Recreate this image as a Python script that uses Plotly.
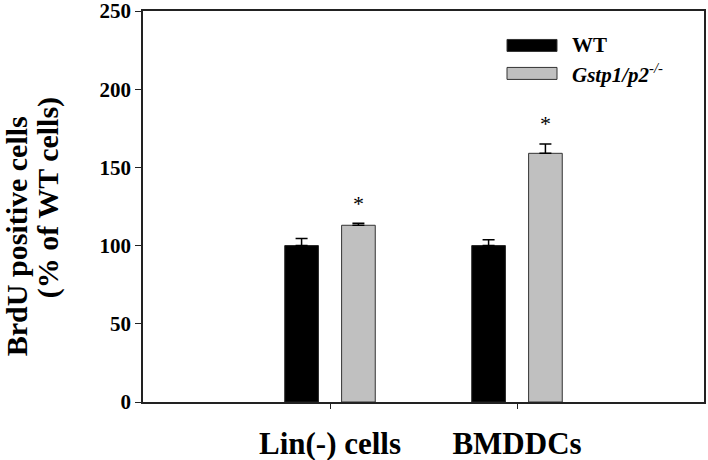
import plotly.graph_objects as go

categories = ["Lin(-) cells", "BMDDCs"]
wt_values = [100, 100]
wt_err = [4.5, 3.7]
ko_values = [113, 159]
ko_err = [1.3, 6]
significant = [True, True]
y_ticks = [0, 50, 100, 150, 200, 250]

FONT = "Liberation Serif, Times New Roman, serif"
W, H = 708, 460
L, R, T, B = 143, 4, 10.5, 58
pw, ph = W - L - R, H - T - B

def px(x):
    return (x - L) / pw

def py(y):
    return 1 - (y - T) / ph

fig = go.Figure()
fig.add_trace(go.Bar(
    x=categories, y=wt_values, name="WT",
    marker=dict(color="black", line=dict(color="#222222", width=1)),
    error_y=dict(type="data", array=wt_err, arrayminus=[0] * len(wt_err), symmetric=False,
                 color="black", thickness=1.5, width=6),
    showlegend=False,
))
fig.add_trace(go.Bar(
    x=categories, y=ko_values, name="Gstp1/p2-/-",
    marker=dict(color="#c0c0c0", line=dict(color="#333333", width=1)),
    error_y=dict(type="data", array=ko_err, arrayminus=[0] * len(ko_err), symmetric=False,
                 color="black", thickness=1.5, width=6),
    showlegend=False,
))

annotations = []
for i, cat in enumerate(categories):
    if significant[i]:
        annotations.append(dict(
            x=cat, y=ko_values[i] + ko_err[i], xref="x", yref="y",
            text="*", showarrow=False, xshift=28, yshift=20,
            font=dict(family=FONT, size=22, color="black"),
        ))

# y-axis title (two lines)
annotations.append(dict(x=px(16), y=py(236), xref="paper", yref="paper",
                        text="<b>BrdU positive cells</b>", textangle=-90, showarrow=False,
                        xanchor="center", yanchor="middle",
                        font=dict(family=FONT, size=30, color="black")))
annotations.append(dict(x=px(48), y=py(198), xref="paper", yref="paper",
                        text="<b>(% of WT cells)</b>", textangle=-90, showarrow=False,
                        xanchor="center", yanchor="middle",
                        font=dict(family=FONT, size=30, color="black")))

# legend
legend_items = [("<b>WT</b>", "black", 45),
                ("<b><i>Gstp1/p2</i></b><sup><i>-/-</i></sup>", "#c0c0c0", 73)]
shapes = []
for text, color, yc in legend_items:
    shapes.append(dict(type="rect", xref="paper", yref="paper",
                       x0=px(507), x1=px(557), y0=py(yc - 6), y1=py(yc + 6),
                       fillcolor=color, line=dict(color="#333333", width=1)))
    annotations.append(dict(x=px(570), y=py(yc), xref="paper", yref="paper",
                            text=text, showarrow=False, xanchor="left", yanchor="middle",
                            font=dict(family=FONT, size=21, color="black")))

fig.update_layout(
    width=W, height=H,
    margin=dict(l=L, r=R, t=T, b=B, autoexpand=False),
    plot_bgcolor="white", paper_bgcolor="white",
    barmode="group", bargap=0.392, bargroupgap=0.408,
    annotations=annotations, shapes=shapes,
    font=dict(family=FONT, color="black"),
)
fig.update_xaxes(
    range=[-1, 2], showline=True, linecolor="#222222", linewidth=1.5, mirror=True,
    ticks="outside", ticklen=5, tickcolor="#222222", tickwidth=1.2,
    tickfont=dict(family=FONT, size=31, color="black", weight="bold"),
    ticklabelstandoff=8, showgrid=False, zeroline=False, automargin=False,
)
fig.update_yaxes(
    range=[0, 250], tickvals=y_ticks, showline=True, linecolor="#222222", linewidth=1.5,
    mirror=True, ticks="outside", ticklen=6, tickcolor="#222222", tickwidth=1.2,
    tickfont=dict(family=FONT, size=21, color="black", weight="bold"),
    ticklabeloverflow="allow", showgrid=False, zeroline=False, automargin=False,
)

fig.write_html("out.html", config={"displayModeBar": False},
               post_script="document.body.style.margin='0';")
